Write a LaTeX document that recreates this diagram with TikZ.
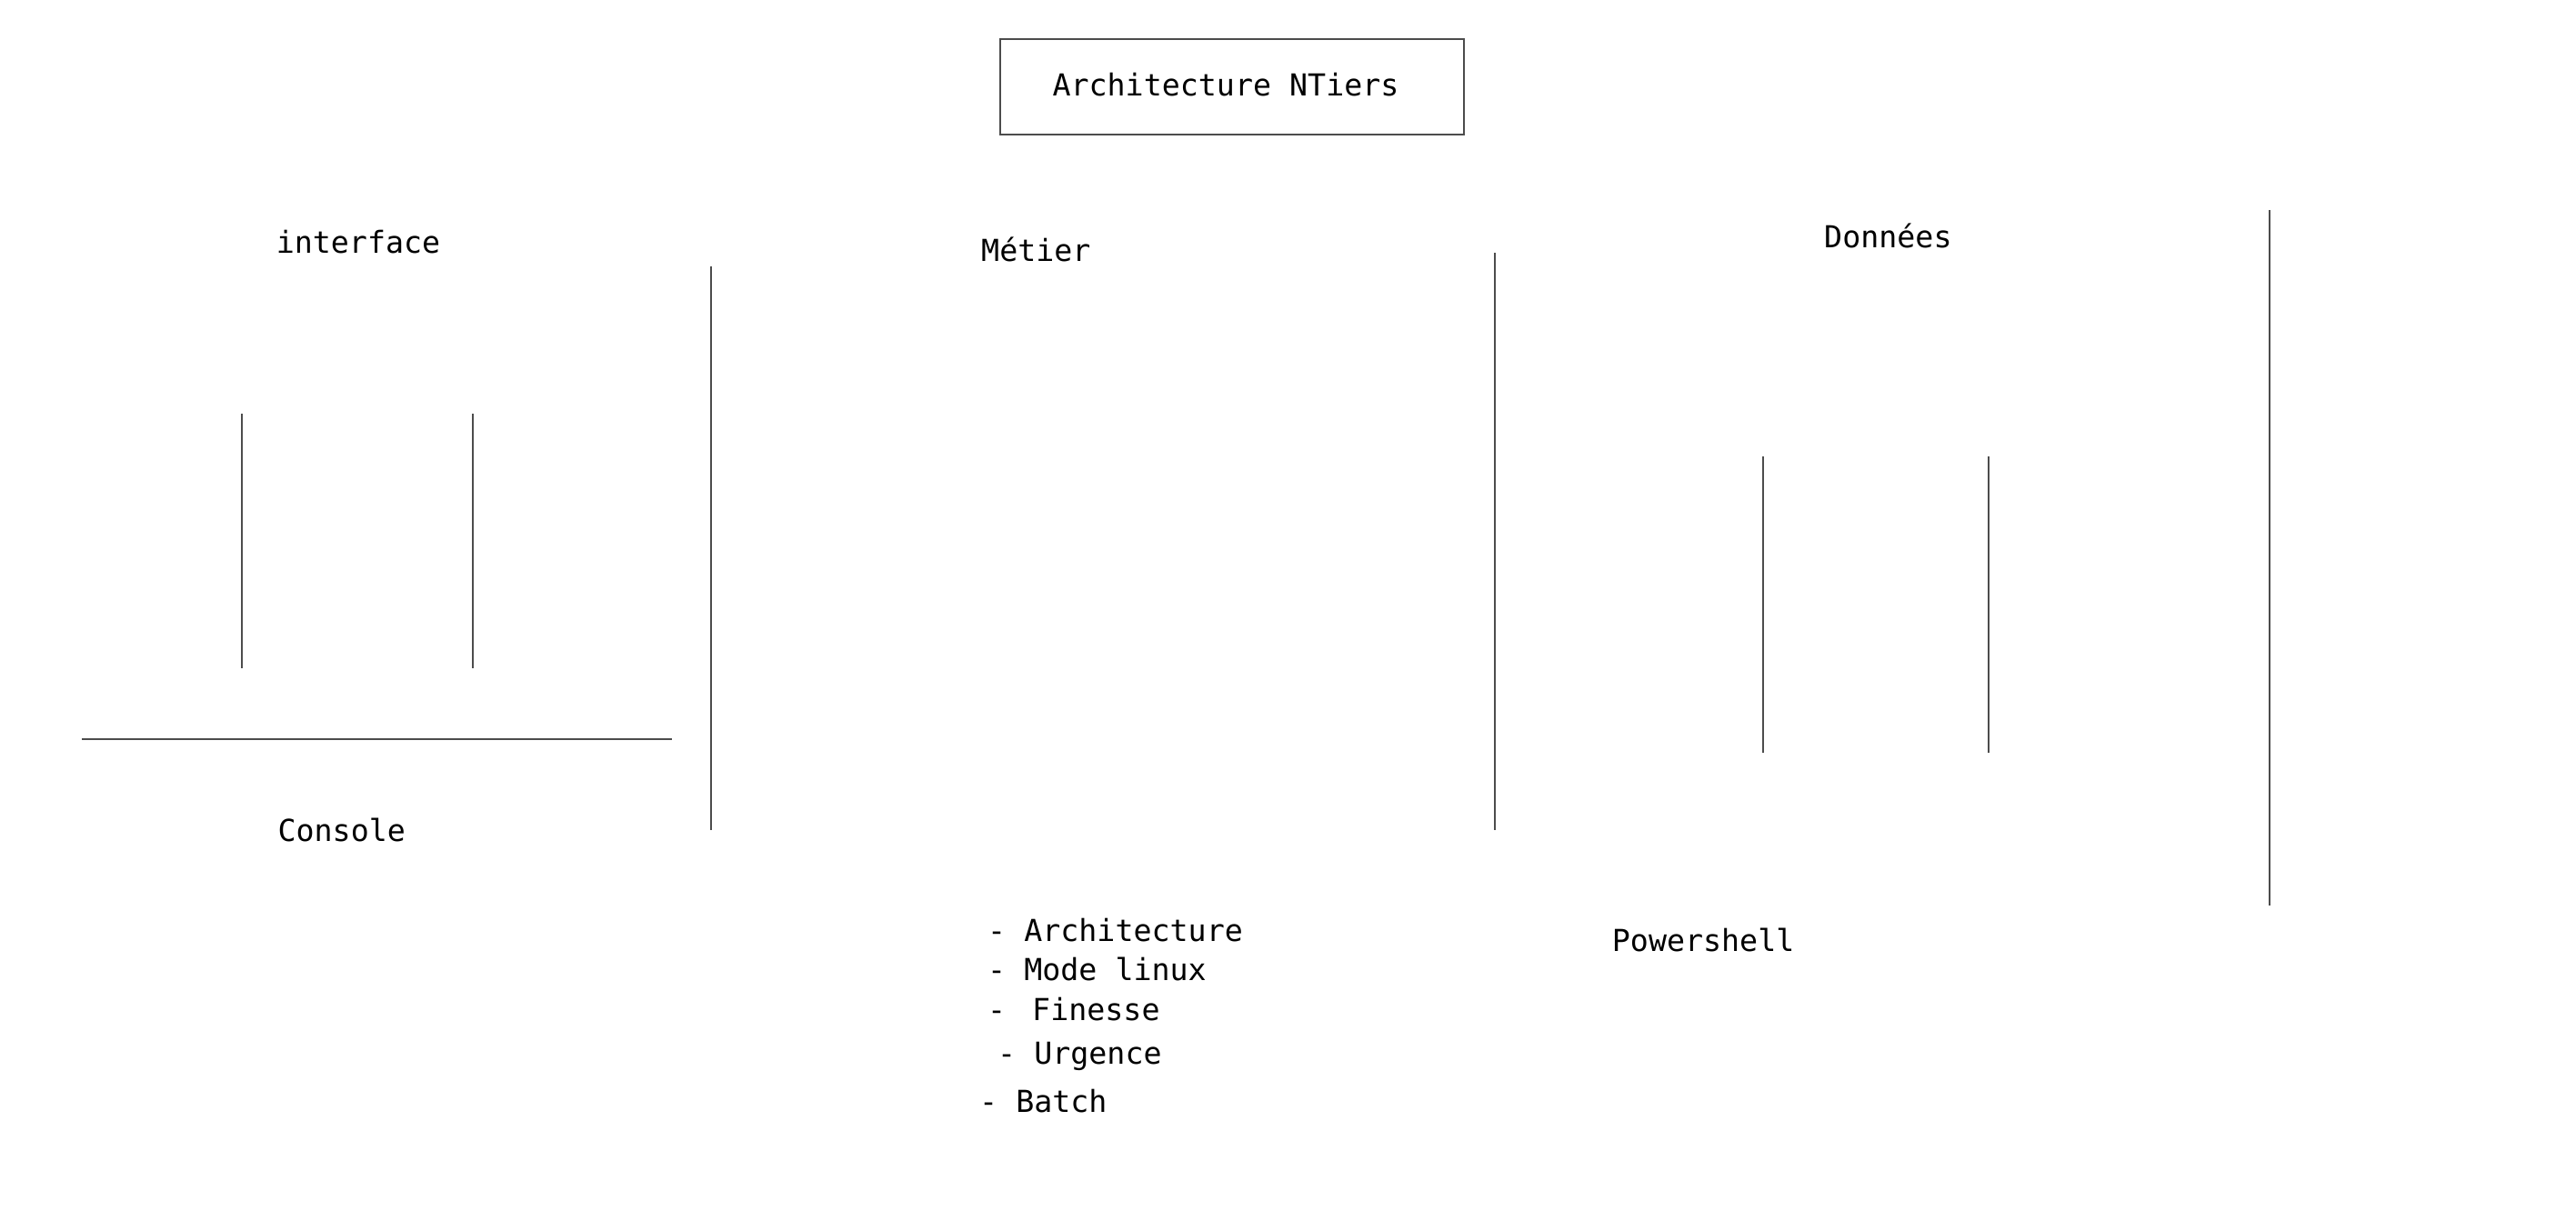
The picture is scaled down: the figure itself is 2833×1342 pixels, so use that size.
\documentclass[tikz,border=0pt]{standalone}
\usepackage{fontspec}
\setmonofont{DejaVu Sans Mono}
\begin{document}
\begin{tikzpicture}[x=1pt,y=-1pt,
  lbl/.style={anchor=mid west, inner sep=0pt, font=\ttfamily\fontsize{33.3}{40}\selectfont},
  ln/.style={line width=2pt, draw=black!70}]
\useasboundingbox (0,0) rectangle (2833,1342);
\fill[white] (0,0) rectangle (2833,1342);
% title box
\node[draw=black!70, line width=2pt, minimum width=510pt, minimum height=105pt, inner sep=0pt] (title) at (1355,95.5) {};
\node[inner sep=0pt, font=\ttfamily\fontsize{33.3}{40}\selectfont] (titletext) at (1348,93) {Architecture NTiers};
% labels
\node[lbl] (interface) at (303.6,276) {interface};
\node[lbl] (metier) at (1079,285.2) {Métier};
\node[lbl] (donnees) at (2006,270.7) {Données};
\node[lbl] (console) at (305.4,923) {Console};
\node[lbl] (powershell) at (1772.7,1044) {Powershell};
\node[lbl] (l1) at (1086,1033) {- Architecture};
\node[lbl] (l2) at (1086,1076.6) {- Mode linux};
\node[lbl] (l3) at (1086,1120) {-\hspace{29pt}Finesse};
\node[lbl] (l4) at (1097,1168.8) {- Urgence};
\node[lbl] (l5) at (1077,1221) {- Batch};
% line end points
\coordinate (a1) at (265.6,455.4);  \coordinate (a2) at (265.6,735.4);
\coordinate (b1) at (520.4,455.4);  \coordinate (b2) at (520.4,735.4);
\coordinate (h1) at (90.4,813.2);   \coordinate (h2) at (739,813.2);
\coordinate (c1) at (782.4,292.7);  \coordinate (c2) at (782.4,912.5);
\coordinate (d1) at (1644.4,278.3); \coordinate (d2) at (1644.4,912.5);
\coordinate (e1) at (1939,502.3);   \coordinate (e2) at (1939,827.6);
\coordinate (f1) at (2186.5,502.3); \coordinate (f2) at (2186.5,827.6);
\coordinate (g1) at (2495.5,231.3); \coordinate (g2) at (2495.5,995.7);
\draw[ln] (a1) -- (a2);
\draw[ln] (b1) -- (b2);
\draw[ln] (h1) -- (h2);
\draw[ln] (c1) -- (c2);
\draw[ln] (d1) -- (d2);
\draw[ln] (e1) -- (e2);
\draw[ln] (f1) -- (f2);
\draw[ln] (g1) -- (g2);
\end{tikzpicture}
\end{document}
